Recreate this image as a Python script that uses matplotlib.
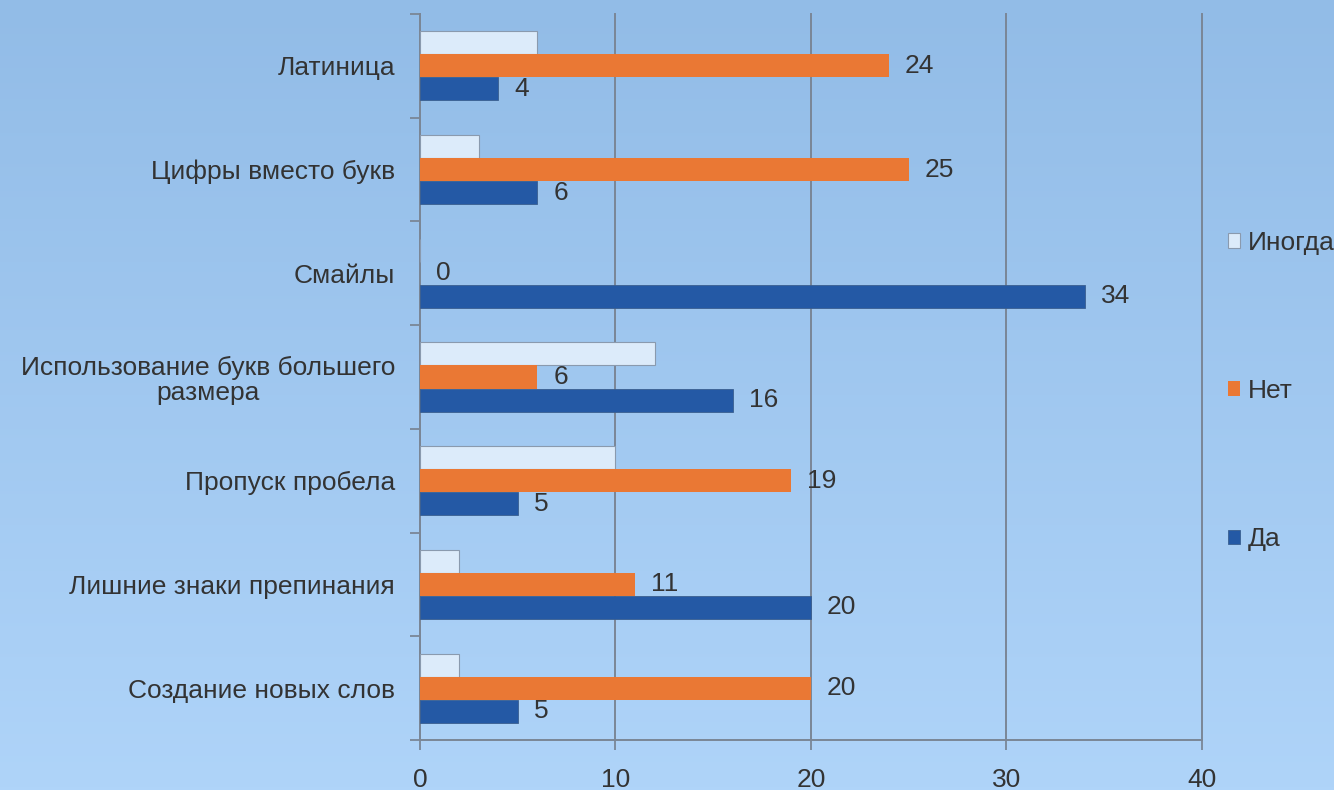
import numpy as np
import matplotlib.pyplot as plt
from matplotlib.colors import LinearSegmentedColormap

plt.rcParams['font.family'] = ['Liberation Sans', 'DejaVu Sans']

# categories from top to bottom
categories = ['Латиница', 'Цифры вместо букв', 'Смайлы',
              'Использование букв большего\nразмера', 'Пропуск пробела',
              'Лишние знаки препинания', 'Создание новых слов']
inogda = [6, 3, 0, 12, 10, 2, 2]
net = [24, 25, 0, 6, 19, 11, 20]
da = [4, 6, 34, 16, 5, 20, 5]
xticks = [0, 10, 20, 30, 40]

c_inogda = '#dcebfa'
c_net = '#ea7834'
c_da = '#2459a5'
text_c = '#333333'
grid_c = '#7a8696'

fig = plt.figure(figsize=(13.34, 7.9), dpi=100)

# gradient background
bg = fig.add_axes([0, 0, 1, 1], zorder=-1)
cmap = LinearSegmentedColormap.from_list('bg', ['#92bce7', '#afd4f9'])
bg.imshow(np.linspace(0, 1, 256).reshape(-1, 1), aspect='auto', cmap=cmap,
          extent=[0, 1, 0, 1], origin='upper')
bg.set_axis_off()

ax = fig.add_axes([0.3148, 0.0633, 0.5862, 0.919])
ax.patch.set_alpha(0)

n = len(categories)
y = np.arange(n)
h = 0.222
ax.barh(y - h, inogda, height=h, color=c_inogda, edgecolor='#8a9aae', linewidth=0.8,
        label='Иногда', zorder=3)
b_net = ax.barh(y, net, height=h, color=c_net, label='Нет', zorder=3)
b_da = ax.barh(y + h, da, height=h, color=c_da, edgecolor='#3a5f90', linewidth=0.6,
               label='Да', zorder=3)

for bars, vals in [(b_net, net), (b_da, da)]:
    for b, v in zip(bars, vals):
        ax.annotate(str(v), (v, b.get_y() + b.get_height() / 2),
                    xytext=(11.5, 0), textcoords='offset points',
                    ha='left', va='center', fontsize=19, color=text_c)

ax.set_xlim(0, 40)
ax.set_ylim(n - 0.5, -0.5)
ax.set_xticks(xticks)
ax.xaxis.grid(True, color=grid_c, linewidth=1.4, zorder=0)
for gl in ax.get_xgridlines():
    gl.set_clip_on(False)
ax.tick_params(axis='x', length=7, width=1.3, color=grid_c, labelsize=19,
               labelcolor=text_c, pad=13)

# boundaries as major ticks, names as minor
ax.set_yticks(np.arange(n + 1) - 0.5)
ax.set_yticklabels([])
ax.tick_params(axis='y', which='major', length=7, width=1.3, color=grid_c)
ax.set_yticks(y, minor=True)
ax.set_yticklabels(categories, minor=True)
ax.tick_params(axis='y', which='minor', length=0, labelsize=19,
               labelcolor=text_c, pad=18)
for lab in ax.get_yticklabels(minor=True):
    lab.set_multialignment('center')
    lab.set_linespacing(1.1)

for s in ['top', 'right']:
    ax.spines[s].set_visible(False)
for s in ['left', 'bottom']:
    ax.spines[s].set_color(grid_c)
    ax.spines[s].set_linewidth(1.4)

handles, labels = ax.get_legend_handles_labels()
fig.legend(handles, labels, loc='center left', bbox_to_anchor=(0.9025, 0.505),
           frameon=False, fontsize=19, labelspacing=4.7, handlelength=0.46,
           handleheight=0.46, handletextpad=0.3, labelcolor=text_c)

fig.savefig('out.png', dpi=100)
